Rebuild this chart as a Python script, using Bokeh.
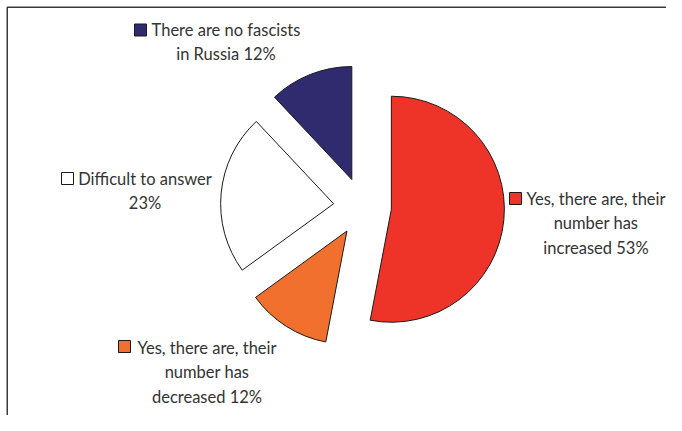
import numpy as np
from bokeh.plotting import figure
from bokeh.models import Range1d, ColumnDataSource
from bokeh.core.properties import value
from bokeh.embed import file_html
from bokeh.resources import INLINE

# ---- data (clockwise from 12 o'clock) ----
categories = [
    "Yes, there are, their number has increased",
    "Yes, there are, their number has decreased",
    "Difficult to answer",
    "There are no fascists in Russia",
]
percent = [53, 12, 23, 12]
colors = ["#EE3429", "#F1702D", "#FFFFFF", "#302A6E"]
label_lines = [
    ["Yes, there are, their", "number has", "increased {}%"],
    ["Yes, there are, their", "number has", "decreased {}%"],
    ["Difficult to answer", "{}%"],
    ["There are no fascists", "in Russia {}%"],
]

# ---- layout (pixels, origin at top-left of the picture) ----
PW, PH = 666, 415
def sy(y):
    return PH - y

center = (362, 206)
radius = 113
explode = 29
label_cx = [595.5, 206.5, 144.5, 225.5]
label_y0 = [198, 347, 178, 29]
line_gap = 24.5
key_pos = [(515, 198), (124, 346), (67, 178), (140, 29.5)]
key_size = 12
font = "Lato"
font_size = "16.5px"
text_color = "#333333"

p = figure(width=PW, height=PH, output_backend="svg",
           toolbar_location=None, min_border=0,
           x_range=Range1d(0, PW), y_range=Range1d(0, PH))
p.axis.visible = False
p.grid.visible = False
p.outline_line_color = None
p.background_fill_color = "white"
p.border_fill_color = "white"

# frame (only left and top edges fall inside the picture)
p.line(x=[6.75, 6.75, PW + 20], y=[-20, sy(6.75), sy(6.75)],
       line_color="#3a3a3a", line_width=1.5)

# wedges
frac = np.array(percent, dtype=float) / sum(percent)
cum = np.concatenate([[0], np.cumsum(frac)[:-1]])
start = np.pi / 2 - cum * 2 * np.pi
end = np.pi / 2 - (cum + frac) * 2 * np.pi
mid = (start + end) / 2
cx = center[0] + explode * np.cos(mid)
cy = sy(center[1]) + explode * np.sin(mid)

src = ColumnDataSource(dict(x=cx, y=cy, start=start, end=end, color=colors,
                            cat=categories, pct=percent))
p.wedge(x="x", y="y", radius=radius, start_angle="start", end_angle="end",
        direction="clock", fill_color="color", line_color="#1a1a1a",
        line_width=1, source=src)

# labels
tx, ty, tt = [], [], []
for i, lines in enumerate(label_lines):
    for j, ln in enumerate(lines):
        tx.append(label_cx[i])
        ty.append(sy(label_y0[i] + j * line_gap))
        tt.append(ln.format(percent[i]))
p.text(x=tx, y=ty, text=tt, text_align="center", text_baseline="middle",
       text_font=value(font), text_font_size=font_size, text_color=text_color)

# legend keys
p.rect(x=[k[0] for k in key_pos], y=[sy(k[1]) for k in key_pos],
       width=key_size, height=key_size, width_units="screen",
       height_units="screen", fill_color=colors, line_color="#1a1a1a",
       line_width=1)

open("out.html", "w").write(file_html(p, INLINE))
